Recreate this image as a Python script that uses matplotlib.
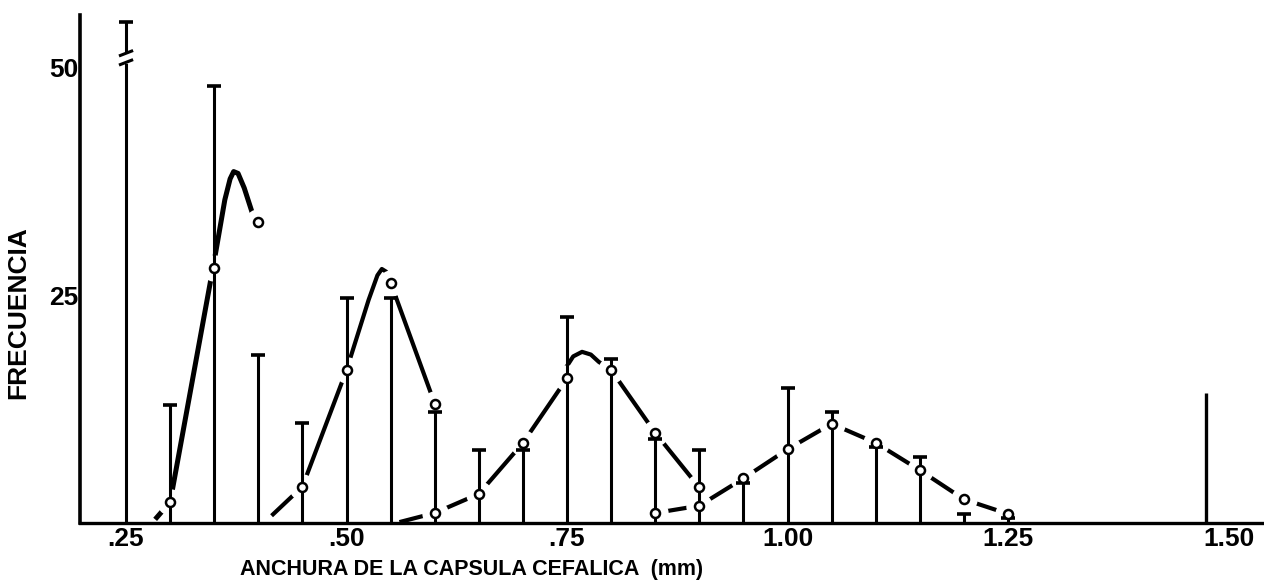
import matplotlib.pyplot as plt

plt.rcParams['font.family'] = ['Liberation Sans', 'DejaVu Sans']
plt.rcParams['font.weight'] = 'bold'

# frequency bars (width classes of the head capsule, mm)
bar_x = [0.25, 0.30, 0.35, 0.40, 0.45, 0.50, 0.55, 0.60, 0.65, 0.70, 0.75,
         0.80, 0.85, 0.90, 0.95, 1.00, 1.05, 1.10, 1.15, 1.20, 1.25]
bar_y = [55, 13, 48, 18.5, 11, 24.7, 24.7, 12.2, 8, 8, 22.6,
         18, 9.2, 8, 4.4, 14.8, 12.2, 8.4, 7.3, 1.0, 0.5]
lone_x = [1.475]
lone_y = [14.3]

# points of each instar curve
i1_x = [0.30, 0.35, 0.40]
i1_y = [2.3, 28.0, 33.1]
i2_x = [0.45, 0.50, 0.55, 0.60]
i2_y = [4.0, 16.8, 26.4, 13.1]
i3_x = [0.60, 0.65, 0.70, 0.75, 0.80, 0.85, 0.90]
i3_y = [1.1, 3.2, 8.8, 15.9, 16.8, 9.9, 3.9]
i4_x = [0.85, 0.90, 0.95, 1.00, 1.05, 1.10, 1.15, 1.20, 1.25]
i4_y = [1.1, 1.9, 4.9, 8.1, 10.9, 8.8, 5.8, 2.6, 1.0]

# hand-drawn curve paths
c1_x = [0.283, 0.30, 0.35, 0.362, 0.368, 0.372, 0.377, 0.384, 0.393]
c1_y = [0.4, 2.3, 28.8, 35.5, 37.8, 38.6, 38.4, 36.8, 34.1]
c2_x = [0.415, 0.45, 0.50, 0.525, 0.535, 0.540, 0.545, 0.55, 0.60]
c2_y = [0.8, 4.0, 16.8, 24.5, 27.2, 27.9, 27.6, 26.4, 13.1]
c3_x = [0.56, 0.60, 0.65, 0.70, 0.75, 0.749, 0.757, 0.767, 0.777, 0.786, 0.80, 0.85, 0.90]
c3_y = [0.1, 1.1, 3.2, 8.8, 15.9, 17.1, 18.3, 18.8, 18.5, 17.7, 16.8, 9.9, 3.9]

xticks = [0.25, 0.50, 0.75, 1.00, 1.25, 1.50]
xlabels = ['.25', '.50', '.75', '1.00', '1.25', '1.50']
yticks = [25, 50]

fig = plt.figure(figsize=(12.64, 5.84), dpi=100)
ax = fig.add_axes([80 / 1264, 61 / 584, 1 - 80 / 1264, 508 / 584])
ax.set_xlim(0.1978, 1.5402)
ax.set_ylim(0, 55.8)

# curves
ax.plot(c1_x, c1_y, color='black', lw=3.6, solid_capstyle='butt', zorder=2)
for cx, cy in [(c2_x, c2_y), (c3_x, c3_y), (i4_x, i4_y)]:
    ax.plot(cx, cy, color='black', lw=3.0, solid_capstyle='butt', zorder=2)

all_px = i1_x + i2_x + i3_x + i4_x
all_py = i1_y + i2_y + i3_y + i4_y
# white halo opens a gap in the curve around every point
ax.plot(all_px, all_py, 'o', ms=19, mfc='white', mec='none', zorder=3)

# bars with caps
ax.vlines(bar_x, 0, bar_y, color='black', lw=2.2, zorder=4)
ax.plot(bar_x, bar_y, '_', color='black', ms=10, mew=2.6, zorder=4)
ax.vlines(lone_x, 0, lone_y, color='black', lw=2.4, zorder=4)

# break marks on the first bar
bx = bar_x[0]
ax.plot([bx, bx], [50.75, 51.45], color='white', lw=4, zorder=4.5)
for yc in (50.6, 51.6):
    ax.plot([bx - 0.008, bx + 0.008], [yc - 0.3, yc + 0.3], color='black',
            lw=2.2, solid_capstyle='butt', zorder=4.6)

ax.plot(all_px, all_py, 'o', ms=6.5, mfc='white', mec='black', mew=1.8, zorder=5)

for side in ['top', 'right']:
    ax.spines[side].set_visible(False)
ax.spines['left'].set_linewidth(2.6)
ax.spines['bottom'].set_linewidth(2.4)
ax.spines['left'].set_zorder(6)
ax.spines['bottom'].set_zorder(6)

ax.set_xticks(xticks)
ax.set_xticklabels(xlabels)
ax.set_yticks(yticks)
ax.set_yticklabels([str(v) for v in yticks])
ax.tick_params(axis='both', length=0, labelsize=19)
ax.tick_params(axis='x', pad=3)
ax.tick_params(axis='y', pad=1)

fig.text(472 / 1264, 1 - 570 / 584, 'ANCHURA DE LA CAPSULA CEFALICA  (mm)',
         ha='center', va='center', fontsize=15.5, fontweight='bold')
fig.text(18 / 1264, 1 - 313 / 584, 'FRECUENCIA', rotation=90,
         ha='center', va='center', fontsize=19, fontweight='bold')

fig.savefig('out.png', dpi=100)
